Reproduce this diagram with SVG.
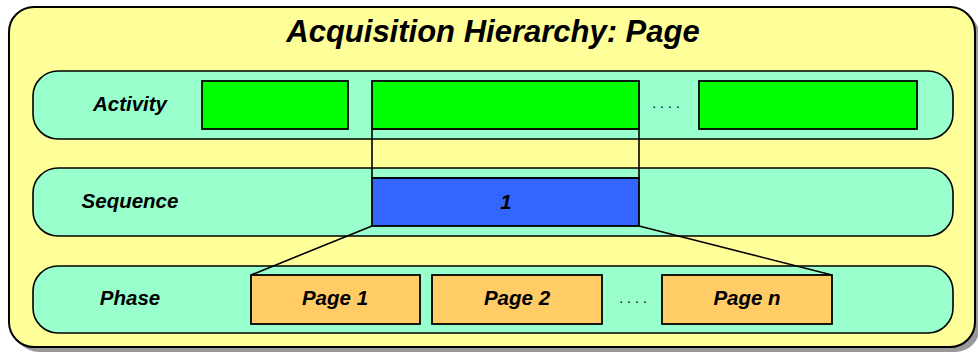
<svg xmlns="http://www.w3.org/2000/svg" width="978" height="356" viewBox="0 0 978 356">
  <style>
    .frame { fill: #FFFF99; stroke: #000; stroke-width: 2; }
    .shadow { fill: #999999; }
    .band { fill: #99FFCC; stroke: #000; stroke-width: 1.6; }
    .act { fill: #00FF00; stroke: #000; stroke-width: 1.8; }
    .seq { fill: #3366FF; stroke: #000; stroke-width: 1.8; }
    .page { fill: #FFCC66; stroke: #000; stroke-width: 1.8; }
    .link { fill: none; stroke: #000; stroke-width: 1.6; }
    text { font-family: "Liberation Sans", Arial, sans-serif; font-weight: bold; font-style: italic; fill: #000; text-anchor: middle; }
    .title { font-size: 31px; }
    .lbl { font-size: 20.5px; }
    .dots { font-size: 14px; font-style: normal; font-weight: normal; letter-spacing: 4px; }
  </style>

  <!-- outer frame with drop shadow -->
  <g id="frame">
    <rect class="shadow" x="14" y="12" width="966" height="340" rx="25"/>
    <rect class="frame" x="9" y="7" width="966" height="340" rx="25"/>
    <text class="title" x="493" y="42">Acquisition Hierarchy: Page</text>
  </g>

  <!-- level bands -->
  <g id="band-activity">
    <rect class="band" x="33" y="71" width="920" height="68" rx="25"/>
    <text class="lbl" x="130" y="111">Activity</text>
  </g>
  <g id="band-sequence">
    <rect class="band" x="33" y="168" width="920" height="68" rx="25"/>
    <text class="lbl" x="130" y="208">Sequence</text>
  </g>
  <g id="band-phase">
    <rect class="band" x="33" y="266" width="920" height="67" rx="25"/>
    <text class="lbl" x="130" y="305">Phase</text>
  </g>

  <!-- connectors: zoom projections between levels -->
  <g id="connectors">
    <rect class="link" x="372" y="129" width="267" height="49"/>
    <line class="link" x1="372" y1="226" x2="251" y2="275"/>
    <line class="link" x1="639" y1="226" x2="832" y2="275"/>
  </g>

  <!-- activity level -->
  <g id="activity-a">
    <rect class="act" x="202" y="81" width="146" height="48"/>
  </g>
  <g id="activity-b">
    <rect class="act" x="372" y="81" width="267" height="48"/>
  </g>
  <text class="dots" x="668" y="108">....</text>
  <g id="activity-c">
    <rect class="act" x="699" y="81" width="218" height="48"/>
  </g>

  <!-- sequence level -->
  <g id="sequence-1">
    <rect class="seq" x="372" y="178" width="267" height="48"/>
    <text class="lbl" x="506" y="209">1</text>
  </g>

  <!-- phase level -->
  <g id="page-1">
    <rect class="page" x="251" y="275" width="169" height="49"/>
    <text class="lbl" x="335" y="305">Page 1</text>
  </g>
  <g id="page-2">
    <rect class="page" x="432" y="275" width="170" height="49"/>
    <text class="lbl" x="517" y="305">Page 2</text>
  </g>
  <text class="dots" x="635" y="303">....</text>
  <g id="page-n">
    <rect class="page" x="662" y="275" width="170" height="49"/>
    <text class="lbl" x="747" y="305">Page n</text>
  </g>
</svg>
